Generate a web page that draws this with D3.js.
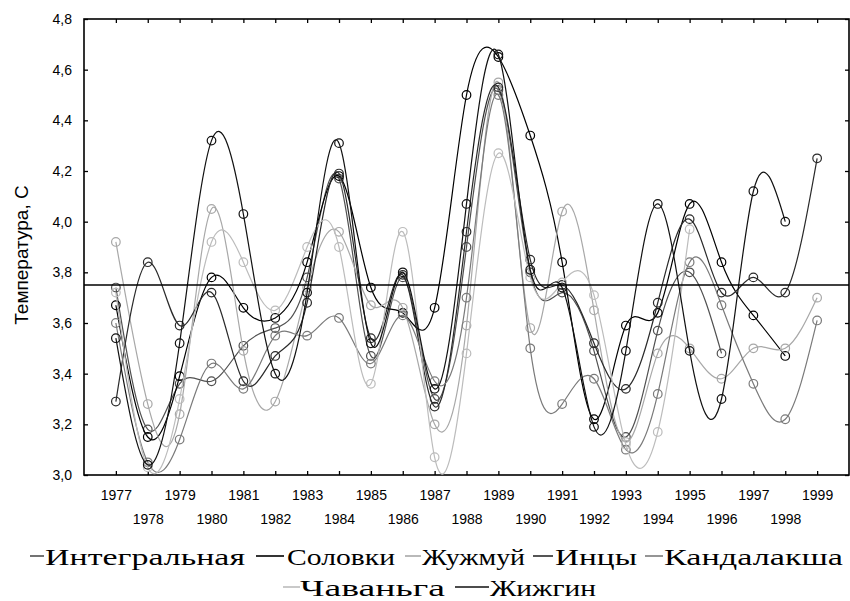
<!DOCTYPE html>
<html><head><meta charset="utf-8">
<script src="https://cdn.jsdelivr.net/npm/d3@7"></script>
<style>body{margin:0;background:#fff}</style>
</head><body>
<svg id="c" width="850" height="601"></svg>
<script>
const years = d3.range(1977, 2000);
const integralnaya = [3.74,3.18,3.36,3.37,3.51,3.58,3.78,4.17,3.47,3.78,3.30,3.90,4.52,3.80,3.72,3.49,3.15,3.57,3.80,3.48,null,null,null];
const solovki      = [3.67,3.15,3.39,3.78,3.66,3.62,3.84,4.18,3.74,3.64,3.66,4.50,4.65,4.34,3.84,3.22,3.59,3.64,4.07,3.84,3.63,3.47,null];
const zhuzhmuy     = [3.92,3.28,3.24,4.05,3.49,3.29,3.74,3.96,3.67,3.66,3.20,3.59,4.55,3.58,4.04,3.65,3.13,3.48,3.50,3.38,3.50,3.50,3.70];
const intsy        = [3.29,3.84,3.59,3.72,3.37,3.47,3.68,4.19,3.54,3.79,3.27,3.96,4.53,3.85,3.75,3.52,3.34,3.68,4.01,3.72,3.78,3.72,4.25];
const kandalaksha  = [3.60,3.05,3.14,3.44,3.34,3.55,3.55,3.62,3.44,3.63,3.37,3.70,4.50,3.50,3.28,3.38,3.10,3.32,3.84,3.67,3.36,3.22,3.61];
const chavanga     = [3.72,3.03,3.30,3.92,3.84,3.65,3.90,3.90,3.36,3.96,3.07,3.48,4.27,3.78,3.76,3.71,3.12,3.17,3.97,null,null,null,null];
const zhizhgin     = [3.54,3.04,3.52,4.32,4.03,3.40,3.72,4.31,3.52,3.80,3.34,4.07,4.66,3.81,3.74,3.19,3.49,4.07,3.49,3.30,4.12,4.00,null];
const meanValue = 3.75;
const yTicks = [3.0,3.2,3.4,3.6,3.8,4.0,4.2,4.4,4.6,4.8];
const seriesNames = ["Интегральная","Соловки","Жужмуй","Инцы","Кандалакша","Чаваньга","Жижгин"];
const seriesColors = ["#505050","#000000","#a8a8a8","#2a2a2a","#7a7a7a","#bcbcbc","#111111"];
const seriesValues = [integralnaya, solovki, zhuzhmuy, intsy, kandalaksha, chavanga, zhizhgin];

const svg = d3.select("#c");
const L = 84, R = 849, T = 19, B = 475;
const x = d3.scaleLinear().domain([1976, 2000]).range([L, R]);
const y = d3.scaleLinear().domain([3.0, 4.8]).range([B, T]);
const loc = d3.formatLocale({decimal: ",", thousands: " ", grouping: [3], currency: ["", ""]});
const fmt = loc.format(".1f");

svg.append("clipPath").attr("id","clip").append("rect")
  .attr("x", L).attr("y", T).attr("width", R-L).attr("height", B-T);

const font = "'Liberation Sans', Arial, sans-serif";
const gx1 = svg.append("g").attr("transform", `translate(0,${B})`)
  .call(d3.axisBottom(x).tickValues(years.filter(v => v % 2 === 1)).tickSize(-4).tickPadding(15).tickFormat(d3.format("d")));
const gx2 = svg.append("g").attr("transform", `translate(0,${B})`)
  .call(d3.axisBottom(x).tickValues(years.filter(v => v % 2 === 0)).tickSize(-4).tickPadding(39).tickFormat(d3.format("d")));
const gxt = svg.append("g").attr("transform", `translate(0,${T})`)
  .call(d3.axisTop(x).tickValues(years).tickSize(-4).tickFormat(""));
const gy = svg.append("g").attr("transform", `translate(${L},0)`)
  .call(d3.axisLeft(y).tickValues(yTicks).tickSize(-4).tickPadding(12).tickFormat(fmt));
const gyr = svg.append("g").attr("transform", `translate(${R},0)`)
  .call(d3.axisRight(y).tickValues(yTicks).tickSize(-4).tickFormat(""));
[gx1,gx2,gxt,gy,gyr].forEach(g => {
  g.select(".domain").remove();
  g.selectAll("line").attr("stroke","#000").attr("stroke-width",1.3);
  g.selectAll("text").attr("font-family", font).attr("font-size", 14).attr("fill","#000");
});

svg.append("rect").attr("x", L).attr("y", T).attr("width", R-L).attr("height", B-T)
  .attr("fill","none").attr("stroke","#000").attr("stroke-width",1.6);

svg.append("text").attr("transform", `translate(28,${(T+B)/2+8}) rotate(-90)`)
  .attr("text-anchor","middle").attr("font-family", font).attr("font-size", 19)
  .text("Температура, С");

const line = d3.line().defined(d => d.v != null).x(d => x(d.yr)).y(d => y(d.v)).curve(d3.curveNatural);
const plot = svg.append("g").attr("clip-path","url(#clip)");
seriesValues.forEach((vals, i) => {
  const pts = years.map((yr, k) => ({yr, v: vals[k]})).filter(d => d.v != null);
  plot.append("path").datum(pts).attr("d", line).attr("fill","none")
    .attr("stroke", seriesColors[i]).attr("stroke-width", 1.2);
  plot.selectAll(null).data(pts).enter().append("circle")
    .attr("cx", d => x(d.yr)).attr("cy", d => y(d.v)).attr("r", 4.3)
    .attr("fill","none").attr("stroke", seriesColors[i]).attr("stroke-width", 1.2);
});

svg.append("line").attr("x1", L).attr("x2", R).attr("y1", y(meanValue)).attr("y2", y(meanValue))
  .attr("stroke","#000").attr("stroke-width",1.6);

const legendLayout = [
  {row:0, lx:30, lw:14, tx:45, tw:200},
  {row:0, lx:256, lw:28, tx:287, tw:108},
  {row:0, lx:405, lw:16, tx:422, tw:103},
  {row:0, lx:533, lw:20, tx:555, tw:82},
  {row:0, lx:645, lw:18, tx:664, tw:179},
  {row:1, lx:283, lw:17, tx:300, tw:145},
  {row:1, lx:455, lw:34, tx:490, tw:106}
];
const rowBase = [565, 596];
seriesNames.forEach((name, i) => {
  const l = legendLayout[i];
  const yb = rowBase[l.row];
  svg.append("line").attr("x1", l.lx).attr("x2", l.lx + l.lw).attr("y1", yb - 9).attr("y2", yb - 9)
    .attr("stroke", seriesColors[i]).attr("stroke-width", 1.6);
  svg.append("text").attr("x", l.tx).attr("y", yb)
    .attr("font-family","'Liberation Serif', 'Times New Roman', serif").attr("font-size", 23)
    .attr("textLength", l.tw).attr("lengthAdjust","spacingAndGlyphs")
    .text(name);
});
</script>
</body></html>
